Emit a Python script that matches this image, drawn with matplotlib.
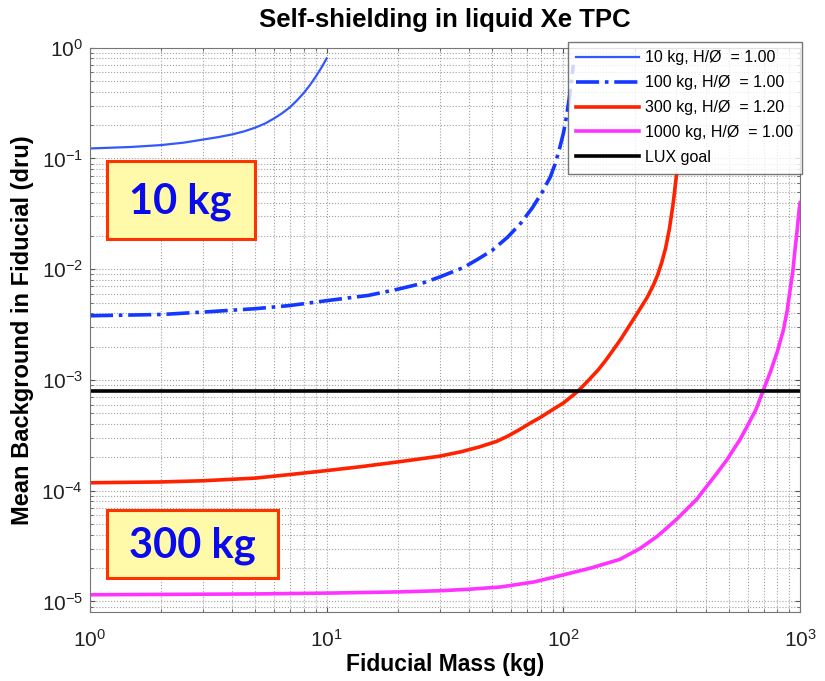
import numpy as np
import matplotlib
matplotlib.use('Agg')
import matplotlib.pyplot as plt
from matplotlib.patches import Rectangle

plt.rcParams['font.family'] = ['Liberation Sans', 'DejaVu Sans']
plt.rcParams['mathtext.fontset'] = 'custom'
plt.rcParams['mathtext.rm'] = 'Liberation Sans'

# Кривые
m10 = [1, 1.5, 2, 2.5, 3, 3.5, 4, 4.5, 5, 5.5, 6, 6.5, 7, 7.5, 8, 8.5, 9, 9.5, 10]
b10 = [0.123, 0.127, 0.132, 0.139, 0.148, 0.156, 0.165, 0.176, 0.19, 0.207,
       0.23, 0.257, 0.29, 0.335, 0.39, 0.46, 0.55, 0.66, 0.80]

m100 = [1, 2, 3, 5, 7, 10, 15, 20, 25, 30, 38, 44, 50, 58, 66, 74, 81, 88,
        92, 96, 100, 103, 106, 110]
b100 = [0.0038, 0.0039, 0.0041, 0.0044, 0.0047, 0.0052, 0.0058, 0.0066, 0.0074,
        0.0085, 0.0104, 0.0125, 0.0148, 0.0194, 0.026, 0.036, 0.049, 0.068,
        0.088, 0.12, 0.17, 0.24, 0.36, 0.7]

m300 = [1, 2, 3, 5, 7, 10, 14, 20, 30, 37, 44, 52, 58, 65, 72, 80, 90, 100, 115,
        128, 140, 150, 162, 175, 190, 205, 225, 240, 250, 260, 270, 280, 290, 300]
b300 = [1.18e-4, 1.2e-4, 1.23e-4, 1.3e-4, 1.4e-4, 1.52e-4, 1.65e-4, 1.82e-4,
        2.05e-4, 2.25e-4, 2.48e-4, 2.78e-4, 3.1e-4, 3.55e-4, 4.05e-4, 4.6e-4,
        5.4e-4, 6.2e-4, 7.9e-4, 1.0e-3, 1.23e-3, 1.48e-3, 1.86e-3, 2.35e-3,
        3.1e-3, 4.0e-3, 5.5e-3, 7.2e-3, 8.9e-3, 1.15e-2, 1.55e-2, 2.3e-2,
        3.8e-2, 7.0e-2]

m1000 = [1, 5, 10, 20, 30, 40, 54, 75, 100, 130, 173, 210, 250, 300, 366, 410,
         446, 490, 521, 557, 600, 650, 697, 750, 800, 848, 880, 906, 930, 950,
         965, 980, 990, 1000]
b1000 = [1.15e-5, 1.17e-5, 1.19e-5, 1.22e-5, 1.25e-5, 1.29e-5, 1.35e-5, 1.5e-5,
         1.74e-5, 2.0e-5, 2.4e-5, 3.0e-5, 3.9e-5, 5.5e-5, 8.4e-5, 1.15e-4,
         1.45e-4, 1.9e-4, 2.33e-4, 2.9e-4, 3.9e-4, 5.4e-4, 8.0e-4, 1.2e-3,
         1.8e-3, 2.8e-3, 4.2e-3, 6.5e-3, 9.5e-3, 1.49e-2, 2.0e-2, 2.8e-2,
         3.5e-2, 4.0e-2]

lux_goal = 8e-4

fig = plt.figure(figsize=(8.25, 6.81), dpi=100)
ax = fig.add_axes([0.109, 0.101, 0.861, 0.829])

ax.plot(m10, b10, color='#3358ff', lw=1.6, label='10 kg, H/Ø  = 1.00')
ax.plot(m100, b100, color='#1438ff', lw=2.6, ls='-.', label='100 kg, H/Ø  = 1.00')
ax.plot(m300, b300, color='#ff2200', lw=2.6, label='300 kg, H/Ø  = 1.20')
ax.plot(m1000, b1000, color='#ff33ff', lw=2.6, label='1000 kg, H/Ø  = 1.00')
ax.axhline(lux_goal, color='black', lw=2.6, label='LUX goal')

ax.set_xscale('log')
ax.set_yscale('log')
ax.set_xlim(1, 1000)
ax.set_ylim(8e-6, 1)

ax.grid(True, which='both', ls=':', color='#a0a0a0', lw=0.8)
ax.tick_params(which='both', direction='in', top=True, right=True, labelsize=15,
               color='#555555', labelcolor='#222222')
ax.tick_params(axis='x', pad=12)
ax.tick_params(axis='y', pad=5)
for s in ax.spines.values():
    s.set_color('#777777')

ax.set_title('Self-shielding in liquid Xe TPC', fontsize=18.5, fontweight='bold', pad=15)
ax.set_xlabel('Fiducial Mass (kg)', fontsize=16.5, fontweight='bold')
ax.set_ylabel('Mean Background in Fiducial (dru)', fontsize=17, fontweight='bold')
ax.xaxis.set_label_coords(0.5, -0.072)
ax.yaxis.set_label_coords(-0.079, 0.5)

leg = ax.legend(loc='upper right', bbox_to_anchor=(0.972, 0.939),
                bbox_transform=fig.transFigure, fontsize=11.5, frameon=True,
                fancybox=False, edgecolor='#555555', handlelength=3.9,
                handletextpad=0.4, borderaxespad=0, labelspacing=0.62,
                borderpad=0.55)
leg.get_frame().set_linewidth(1.0)

# Подписи-плашки
for (x0, y0, w, h), (tx, ty), s in [((0.130, 0.649, 0.179, 0.114), (0.219, 0.687), '10 kg'),
                                     ((0.130, 0.151, 0.207, 0.100), (0.233, 0.181), '300 kg')]:
    fig.patches.append(Rectangle((x0, y0), w, h, transform=fig.transFigure,
                                 fc='#fffaaa', ec='#ff3300', lw=2.2, zorder=5))
    fig.text(tx, ty, s, fontsize=30, fontweight='bold', color='#0a0aee',
             family=['Lato', 'DejaVu Sans'], ha='center', va='baseline', zorder=6)

fig.savefig('out.png', dpi=100)
